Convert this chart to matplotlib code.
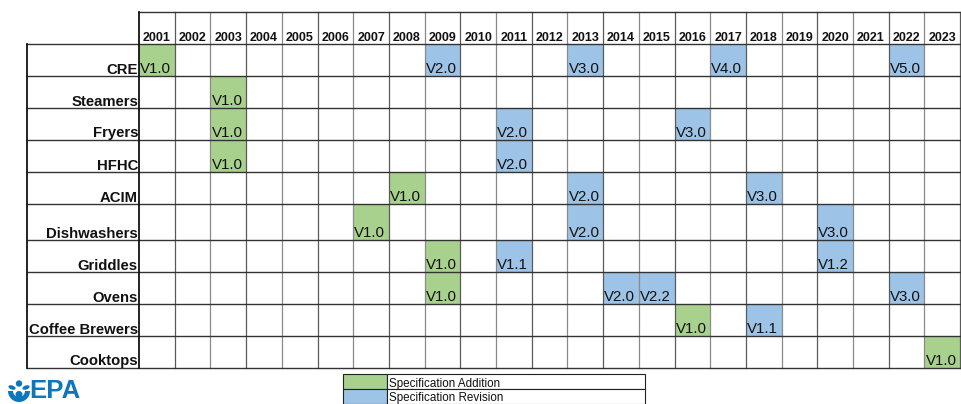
import matplotlib
matplotlib.use("Agg")
import matplotlib.pyplot as plt
from matplotlib.patches import Rectangle, Circle, Wedge, Ellipse

# ---------------- data ----------------
years = list(range(2001, 2024))
categories = ['CRE', 'Steamers', 'Fryers', 'HFHC', 'ACIM', 'Dishwashers',
              'Griddles', 'Ovens', 'Coffee Brewers', 'Cooktops']
event_category = ['CRE', 'CRE', 'CRE', 'CRE', 'CRE',
                  'Steamers',
                  'Fryers', 'Fryers', 'Fryers',
                  'HFHC', 'HFHC',
                  'ACIM', 'ACIM', 'ACIM',
                  'Dishwashers', 'Dishwashers', 'Dishwashers',
                  'Griddles', 'Griddles', 'Griddles',
                  'Ovens', 'Ovens', 'Ovens', 'Ovens',
                  'Coffee Brewers', 'Coffee Brewers',
                  'Cooktops']
event_year = [2001, 2009, 2013, 2017, 2022,
              2003,
              2003, 2011, 2016,
              2003, 2011,
              2008, 2013, 2018,
              2007, 2013, 2020,
              2009, 2011, 2020,
              2009, 2014, 2015, 2022,
              2016, 2018,
              2023]
event_version = ['V1.0', 'V2.0', 'V3.0', 'V4.0', 'V5.0',
                 'V1.0',
                 'V1.0', 'V2.0', 'V3.0',
                 'V1.0', 'V2.0',
                 'V1.0', 'V2.0', 'V3.0',
                 'V1.0', 'V2.0', 'V3.0',
                 'V1.0', 'V1.1', 'V1.2',
                 'V1.0', 'V2.0', 'V2.2', 'V3.0',
                 'V1.0', 'V1.1',
                 'V1.0']
# 'add' = Specification Addition, 'rev' = Specification Revision
event_kind = ['add', 'rev', 'rev', 'rev', 'rev',
              'add',
              'add', 'rev', 'rev',
              'add', 'rev',
              'add', 'rev', 'rev',
              'add', 'rev', 'rev',
              'add', 'rev', 'rev',
              'add', 'rev', 'rev', 'rev',
              'add', 'rev',
              'add']
legend_labels = ['Specification Addition', 'Specification Revision']

# ---------------- style / layout ----------------
GREEN = '#a9d18e'
BLUE = '#9dc3e6'
kind_color = {'add': GREEN, 'rev': BLUE}
EPA_BLUE = '#0e76bc'

plt.rcParams['font.family'] = ['Liberation Sans', 'DejaVu Sans']

W, H = 961, 404
COL_W = 35.7          # px per year column
X0 = 139              # px left edge of first year column
LABEL_LEFT = 27
HEADER_TOP = 12
row_edges = [44, 76, 108, 140, 172, 204, 240, 272, 304, 336, 368]


def px2x(px):
    return (px - X0) / COL_W


fig = plt.figure(figsize=(W / 100, H / 100), dpi=100)
ax = fig.add_axes([0, 0, 1, 1])
ax.set_xlim(px2x(0), px2x(W))
ax.set_ylim(H, 0)
ax.axis('off')

ncol = len(years)

# colored cells
for cat, yr, ver, kind in zip(event_category, event_year, event_version, event_kind):
    r = categories.index(cat)
    c = years.index(yr)
    top, bot = row_edges[r], row_edges[r + 1]
    ax.add_patch(Rectangle((c, top), 1, bot - top, facecolor=kind_color[kind],
                           edgecolor='none', zorder=1))
    ax.text(c + 0.03, bot - 3, ver, ha='left', va='baseline', fontsize=10.8,
            color='#111111', zorder=4)

# grid lines
for y in row_edges:
    ax.plot([px2x(LABEL_LEFT), ncol + 0.2], [y, y], color='#333333', lw=1.0, zorder=3)
ax.plot([0, ncol + 0.2], [HEADER_TOP, HEADER_TOP], color='#333333', lw=1.0, zorder=3)
for c in range(1, ncol + 1):
    ax.plot([c, c], [HEADER_TOP, row_edges[-1]], color='#5a5a5a' if c % 2 else '#8a8a8a',
            lw=0.9, zorder=2)
ax.plot([0, 0], [HEADER_TOP, row_edges[-1]], color='#111111', lw=1.3, zorder=3)
ax.plot([px2x(LABEL_LEFT)] * 2, [row_edges[0], row_edges[-1]], color='#111111', lw=1.3, zorder=3)

# header
for c, yr in enumerate(years):
    ax.text(c + 0.5, row_edges[0] - 3, str(yr), ha='center', va='baseline',
            fontsize=9, fontweight='bold', color='#111111')

# row labels
for r, cat in enumerate(categories):
    ax.text(px2x(X0 - 1), row_edges[r + 1] - 2.5, cat, ha='right', va='baseline',
            fontsize=10.7, fontweight='bold', color='#111111')

# legend
lx0, lx1, sw = px2x(343), px2x(645), px2x(387)
leg_top, leg_h = 374, 15
for i, (lab, col) in enumerate(zip(legend_labels, [GREEN, BLUE])):
    yt = leg_top + i * leg_h
    ax.add_patch(Rectangle((lx0, yt), sw - lx0, leg_h, facecolor=col,
                           edgecolor='#222222', lw=0.8, zorder=2))
    ax.add_patch(Rectangle((sw, yt), lx1 - sw, leg_h, facecolor='white',
                           edgecolor='#222222', lw=0.8, zorder=2))
    ax.text(px2x(389), yt + leg_h - 2.5, lab, ha='left', va='baseline',
            fontsize=8.4, color='#111111', zorder=3)

# EPA logo: wordmark
ax.text(px2x(29), 403.5, 'EPA', ha='left', va='bottom', fontsize=18.5,
        fontweight='bold', color=EPA_BLUE)

# EPA logo: emblem in its own pixel-square axes
lax = fig.add_axes([6 / W, 1 - 404 / H, 26 / W, 26 / H])
lax.set_xlim(0, 26)
lax.set_ylim(26, 0)
lax.axis('off')
lax.add_patch(Circle((13, 5.5), 3.2, facecolor=EPA_BLUE, edgecolor='none'))
lax.add_patch(Ellipse((6.0, 9.5), 7.5, 4.0, angle=20, facecolor=EPA_BLUE, edgecolor='none'))
lax.add_patch(Ellipse((20.0, 9.5), 7.5, 4.0, angle=-20, facecolor=EPA_BLUE, edgecolor='none'))
lax.add_patch(Wedge((13, 13), 11, 0, 180, facecolor=EPA_BLUE, edgecolor='none'))
lax.add_patch(Wedge((13, 13), 6, 0, 180, facecolor='white', edgecolor='none'))
lax.add_patch(Circle((13, 16.5), 3.5, facecolor=EPA_BLUE, edgecolor='none'))

fig.savefig('out.png', dpi=100)
